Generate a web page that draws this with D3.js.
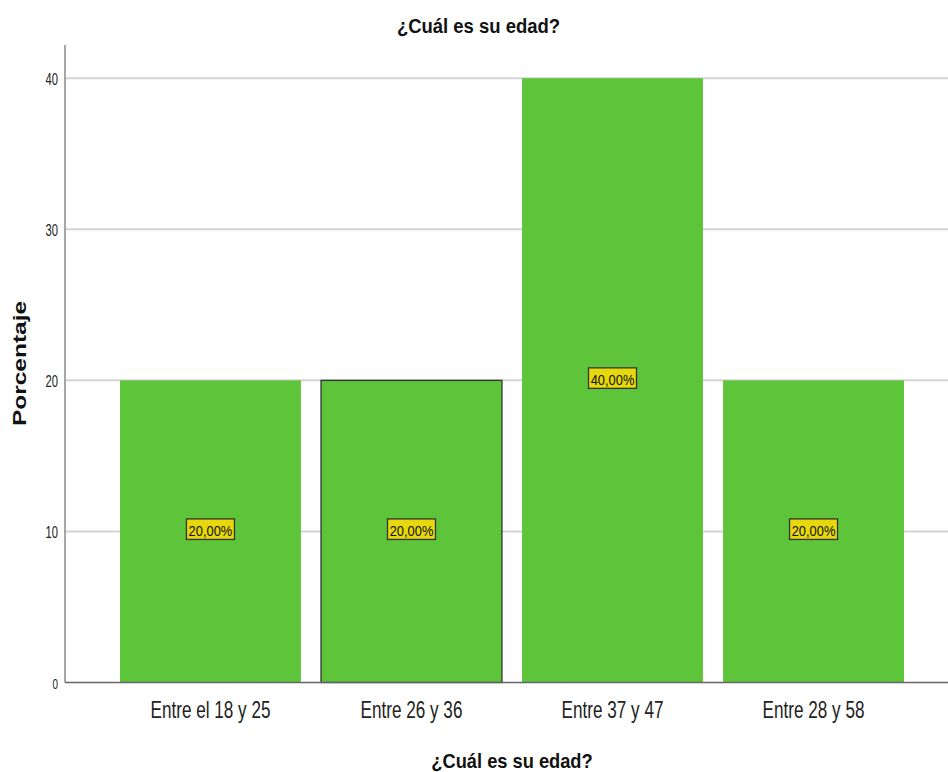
<!DOCTYPE html>
<html><head><meta charset="utf-8">
<script src="https://cdn.jsdelivr.net/npm/d3@7"></script>
<style>
body{margin:0;background:#fff;}
svg{display:block;}
</style></head>
<body>
<script>
const categories = ["Entre el 18 y 25", "Entre 26 y 36", "Entre 37 y 47", "Entre 28 y 58"];
const values = [20, 20, 40, 20];
const valueLabels = ["20,00%", "20,00%", "40,00%", "20,00%"];
const yTicks = [0, 10, 20, 30, 40];
const title = "¿Cuál es su edad?";
const xTitle = "¿Cuál es su edad?";
const yTitle = "Porcentaje";

const W = 948, H = 772;
const font = "'Liberation Sans', Arial, sans-serif";

const svg = d3.select("body").append("svg").attr("width", W).attr("height", H);

const x = d3.scaleBand().domain(categories).range([120, 904]).paddingInner(0.1).paddingOuter(0);
const y = d3.scaleLinear().domain([0, 42.2]).range([682.5, 45]);

// gridlines
svg.append("g").selectAll("line").data(yTicks.filter(d => d > 0)).join("line")
  .attr("x1", 65).attr("x2", W).attr("y1", d => y(d)).attr("y2", d => y(d))
  .attr("stroke", "#d4d4d4").attr("stroke-width", 2);

// bars
svg.append("g").selectAll("rect").data(values).join("rect")
  .attr("x", (d, i) => x(categories[i]))
  .attr("width", x.bandwidth())
  .attr("y", d => y(d))
  .attr("height", d => y(0) - y(d))
  .attr("fill", "#5ec43a")
  .attr("stroke", (d, i) => i === 1 ? "#333" : "none")
  .attr("stroke-width", 1.3);

// y axis
const ysx = 0.66;
const yAxis = d3.axisLeft(y).tickValues(yTicks).tickSize(0).tickFormat(d3.format("d"));
const yg = svg.append("g").attr("transform", "translate(65,0)").call(yAxis);
yg.select(".domain").attr("stroke", "#888").attr("stroke-width", 1.5).attr("d", `M0,${y(0)}V45`);
yg.selectAll(".tick text").attr("font-family", font).attr("font-size", d => d === 0 ? 15 : 17).attr("fill", "#222")
  .attr("x", -7 / ysx).attr("dy", "0.38em").attr("transform", `scale(${ysx},1)`);

// x axis
const xsx = 0.745;
const xAxis = d3.axisBottom(x).tickSize(0);
const xg = svg.append("g").attr("transform", `translate(0,${y(0)})`).call(xAxis);
xg.select(".domain").attr("stroke", "#666").attr("stroke-width", 1.5).attr("d", `M65,0H${W}`);
xg.selectAll(".tick text").attr("font-family", font).attr("font-size", 23).attr("fill", "#222")
  .attr("y", 35.5).attr("dy", 0).attr("transform", `scale(${xsx},1)`);

// value labels
const lab = svg.append("g").selectAll("g").data(values).join("g")
  .attr("transform", (d, i) => `translate(${x(categories[i]) + x.bandwidth() / 2},${y(d / 2)})`);
lab.append("rect").attr("x", -24).attr("y", -12.5).attr("width", 48).attr("height", 20.5)
  .attr("fill", "#e6d80a").attr("stroke", "#333").attr("stroke-width", 1.3);
lab.append("text").text((d, i) => valueLabels[i])
  .attr("text-anchor", "middle").attr("y", 5)
  .attr("font-family", font).attr("font-size", 15).attr("fill", "#111")
  .attr("transform", "scale(0.86,1)");

// titles
svg.append("text").text(title).attr("text-anchor", "middle")
  .attr("transform", "translate(478.5,33) scale(0.88,1)")
  .attr("font-family", font).attr("font-weight", "bold").attr("font-size", 21).attr("fill", "#111");
svg.append("text").text(xTitle).attr("text-anchor", "middle")
  .attr("transform", "translate(512,768) scale(0.87,1)")
  .attr("font-family", font).attr("font-weight", "bold").attr("font-size", 21).attr("fill", "#111");
svg.append("text").text(yTitle).attr("text-anchor", "middle")
  .attr("transform", "translate(25.5,363.5) rotate(-90) scale(1.36,1)")
  .attr("font-family", font).attr("font-weight", "bold").attr("font-size", 18).attr("fill", "#111");
</script>
</body></html>
